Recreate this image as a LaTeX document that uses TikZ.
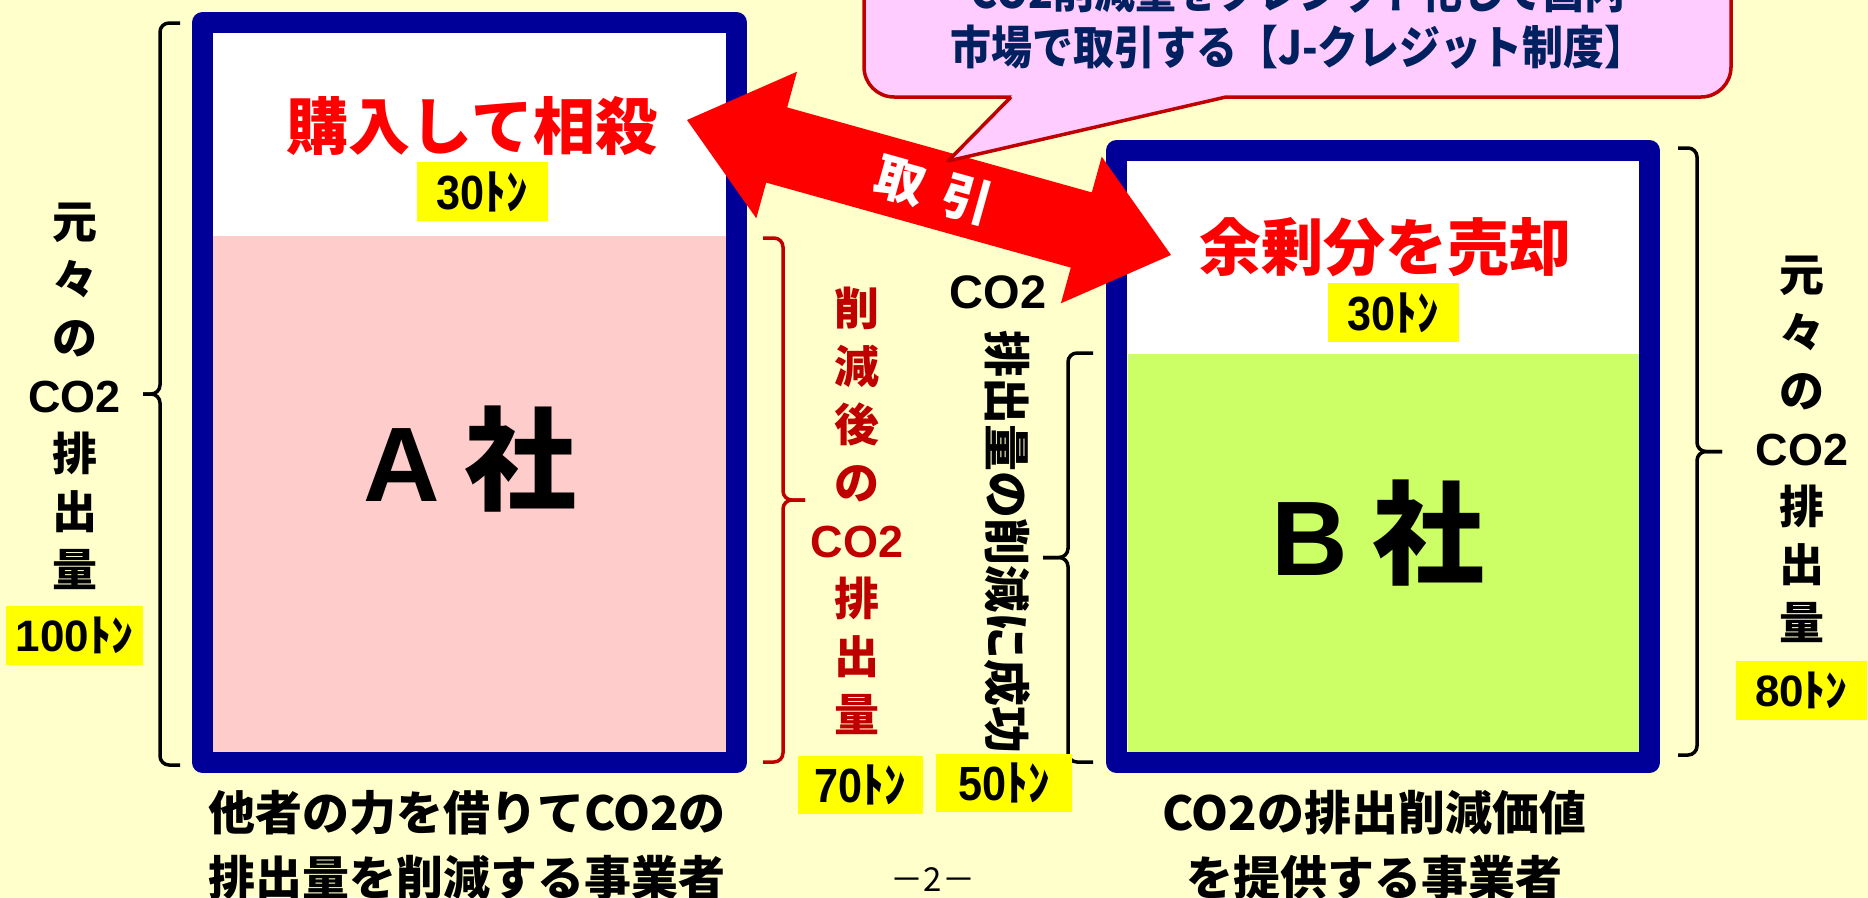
\documentclass[tikz,border=0pt]{standalone}
\usepackage{fontspec}
\usepackage{graphicx}
\setmainfont{Noto Sans CJK JP}
\newfontfamily\lat{Liberation Sans}
\newcommand{\fsz}[1]{\fontsize{#1pt}{#1pt}\selectfont}
\newcommand{\fszl}[2]{\fontsize{#1pt}{#2pt}\selectfont}
\definecolor{bgc}{HTML}{FFFFCC}
\definecolor{navyc}{HTML}{000099}
\definecolor{pinkc}{HTML}{FFCCCC}
\definecolor{greenc}{HTML}{CCFF66}
\definecolor{redc}{HTML}{FF0000}
\definecolor{dredc}{HTML}{C00000}
\definecolor{callc}{HTML}{FFCCFF}
\definecolor{tagc}{HTML}{FFFF00}
\definecolor{inkc}{HTML}{002060}
% #1 style, #2 tip x, #3 spine x, #4 top y, #5 bottom y, #6 mid tip x
\newcommand{\sidebrace}[6]{%
  \draw[brc,#1] (#2,#4) -- (#3,#4) -- (#3,{(#4+#5)/2}) -- (#6,{(#4+#5)/2});
  \draw[brc,#1] (#6,{(#4+#5)/2}) -- (#3,{(#4+#5)/2}) -- (#3,#5) -- (#2,#5);
}
\tikzset{
  frame/.style={draw=navyc, line width=21pt, line join=round},
  tag/.style={fill=tagc, inner sep=0pt, minimum height=59pt, text=black},
  brc/.style={line width=3.5pt, rounded corners=9pt},
  bigred/.style={text=redc, inner sep=0pt, font=\bfseries\fsz{62}},
  vlabel/.style={align=center, inner sep=0pt, font=\bfseries\fszl{45}{58}},
  bottomtxt/.style={align=center, inner sep=0pt, font=\bfseries\fszl{47}{65}},
  company/.style={inner sep=0pt, font=\bfseries},
}
\begin{document}
\begin{tikzpicture}[x=1pt,y=-1pt]
\clip (0,0) rectangle (1868,897);
\fill[bgc] (0,0) rectangle (1868,897);

% Box A
\fill[pinkc] (213,33) rectangle (726,752);
\fill[white] (213,33) rectangle (726,236);
\draw[frame] (202.5,22.5) rectangle (736.5,762.5);
% Box B
\fill[greenc] (1128,162) rectangle (1640,752);
\fill[white] (1128,162) rectangle (1640,354);
\draw[frame] (1116.5,150.5) rectangle (1649.5,762.5);

% braces
\sidebrace{black}{180}{160}{23}{765}{143}
\sidebrace{dredc}{763}{783}{238}{762}{805}
\sidebrace{black}{1093}{1068}{353}{762}{1043}
\sidebrace{black}{1678}{1697}{148}{755}{1722}

% double arrow
\fill[redc] (687,120) -- (797,71.7) -- (787.2,107.4) -- (1091.8,192.4) -- (1101.7,156.7)
  -- (1171,255) -- (1060.9,303.3) -- (1070.8,267.6) -- (766.2,182.6) -- (756.3,218.3) -- cycle;
\node[rotate=-15.6, text=white, inner sep=0pt, font=\bfseries\fsz{50}] (trade) at (934,190) {取\hspace{20pt}引};

% callout
\path[fill=callc, draw=dredc, line width=3.5pt, rounded corners=30pt] (864,-80) rectangle (1731,97);
\fill[callc] (1013,93) -- (1224,93) -- (1226,97) -- (948,161) -- (1011,97) -- cycle;
\draw[dredc, line width=3.5pt, line join=round] (1011,97) -- (948,161) -- (1226,97);
\node[align=center, inner sep=0pt, text=inkc, font=\bfseries\fszl{46}{56}] (ctext) at (1298,19.5)
  {\scalebox{0.89}[1]{CO2削減量をクレジット化して国内}\\\scalebox{0.89}[1]{市場で取引する【J-クレジット制度】}};

% titles in boxes
\node[bigred] (buy) at (472,126) {購入して相殺};
\node[tag, minimum width=131pt, font=\bfseries\fsz{48}] (tagA) at (482.5,191.5) {\scalebox{0.9}[1]{{\lat 30}ﾄﾝ}};
\node[bigred] (sell) at (1385,247) {余剰分を売却};
\node[tag, minimum width=131pt, font=\bfseries\fsz{48}] (tagB) at (1393.5,312.5) {\scalebox{0.9}[1]{{\lat 30}ﾄﾝ}};

\node[company] (coA) at (470,459) {{\lat\fsz{106}A}\hspace{24pt}{\fsz{112}社}};
\node[company] (coB) at (1378,533) {{\lat\fsz{106}B}\hspace{24pt}{\fsz{112}社}};

% side labels
\node[vlabel] (orgA) at (74.5,396) {元\\々\\の\\{\lat CO2}\\排\\出\\量};
\node[tag, minimum width=137pt, font=\bfseries\fsz{44}] (tag100) at (74.5,635.5) {{\lat 100}ﾄﾝ};
\node[vlabel] (orgB) at (1802,449) {元\\々\\の\\{\lat CO2}\\排\\出\\量};
\node[tag, minimum width=131pt, font=\bfseries\fsz{44}] (tag80) at (1801.5,690.5) {{\lat 80}ﾄﾝ};
\node[vlabel, text=dredc] (after) at (857,511) {削\\減\\後\\の\\{\lat CO2}\\排\\出\\量};
\node[tag, minimum width=125pt, minimum height=58pt, font=\bfseries\fsz{48}] (tag70) at (860.5,785) {\scalebox{0.9}[1]{{\lat 70}ﾄﾝ}};
\node[tag, minimum width=136pt, minimum height=58pt, font=\bfseries\fsz{48}] (tag50) at (1004,783) {\scalebox{0.9}[1]{{\lat 50}ﾄﾝ}};

\node[inner sep=0pt, font=\lat\bfseries\fsz{47}] (co2) at (998,292) {CO2};
\node[rotate=-90, inner sep=0pt, font=\bfseries\fsz{47}] (success) at (1007,542) {排出量の削減に成功};

% bottom texts
\node[bottomtxt] (botA) at (467,845.5) {他者の力を借りてCO2の\\排出量を削減する事業者};
\node[bottomtxt] (botB) at (1374,845.5) {CO2の排出削減価値\\を提供する事業者};
\node[inner sep=0pt, font=\fsz{33}] (page) at (933,880) {－2－};
\end{tikzpicture}
\end{document}
